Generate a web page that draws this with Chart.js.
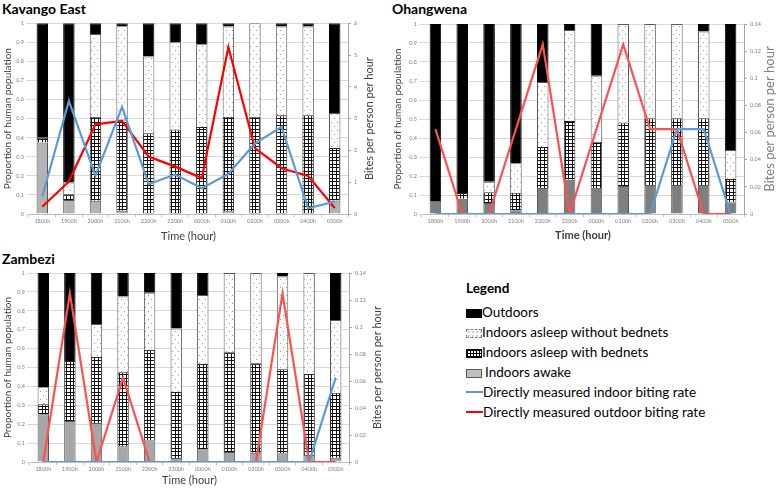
<!DOCTYPE html>
<html>
<head>
<meta charset="utf-8">
<script src="https://cdn.jsdelivr.net/npm/chart.js@4.4.1/dist/chart.umd.min.js"></script>
<style>
  body { margin: 0; width: 783px; height: 488px; background: #fff; position: relative; overflow: hidden; font-family: Lato, "Liberation Sans", sans-serif; }
  canvas { position: absolute; }
  .ttl { position: absolute; font-weight: bold; font-size: 14px; color: #000; }
  #legend { position: absolute; left: 466px; top: 280px; font-size: 13.5px; color: #000; }
  #legend .head { font-weight: bold; font-size: 13.5px; margin-bottom: 6px; }
  #legend .row { height: 20px; line-height: 20px; white-space: nowrap; }
  .sw { display: inline-block; width: 16px; height: 9px; vertical-align: -1px; box-sizing: border-box; }
  .ln { display: inline-block; width: 17px; height: 2px; vertical-align: 4px; }
</style>
</head>
<body>
<div class="ttl" style="left:2px;top:0px">Kavango East</div>
<div class="ttl" style="left:392px;top:0px">Ohangwena</div>
<div class="ttl" style="left:2px;top:250px">Zambezi</div>

<canvas id="ke" width="383" height="229" style="left:0;top:17px"></canvas>
<canvas id="oh" width="393" height="228" style="left:390px;top:17px"></canvas>
<canvas id="za" width="388" height="222" style="left:0;top:266px"></canvas>

<div id="legend">
  <div class="head">Legend</div>
  <div class="row"><span class="sw" style="background:#000"></span>Outdoors</div>
  <div class="row"><span class="sw" style="border:1px dashed #7f7f7f;background-color:#fff;background-image:radial-gradient(#999 0.6px, transparent 0.8px);background-size:4px 4px"></span>Indoors asleep without bednets</div>
  <div class="row"><span class="sw" style="border:1px solid #000;background-color:#fff;background-image:linear-gradient(#000 1px, transparent 1px),linear-gradient(90deg,#000 1px, transparent 1px);background-size:3px 3px"></span>Indoors asleep with bednets</div>
  <div class="row"><span class="sw" style="border:1px solid #595959;background:#bfbfbf;margin-right:3px"></span>Indoors awake</div>
  <div class="row"><span class="ln" style="background:#5b9bd5"></span>Directly measured indoor biting rate</div>
  <div class="row"><span class="ln" style="background:#ff0000"></span>Directly measured outdoor biting rate</div>
</div>

<script>
const hours = ['1800h','1900h','2000h','2100h','2200h','2300h','0000h','0100h','0200h','0300h','0400h','0500h'];

// Kavango East
const keAwake      = [0.375,0.073,0.07,0.017,0,0,0,0.014,0,0,0,0.071];
const keWithNets   = [0.025,0.031,0.44,0.479,0.423,0.443,0.456,0.496,0.51,0.518,0.518,0.275];
const keNoNets     = [0,0.061,0.434,0.488,0.403,0.457,0.434,0.473,0.49,0.465,0.465,0.184];
const keOutdoors   = [0.6,0.835,0.056,0.016,0.174,0.1,0.11,0.017,0,0.017,0.017,0.47];
const keIndoorBite = [0.55,3.56,1.2,3.37,0.94,1.24,0.81,1.26,2.22,2.74,0.18,0.39];
const keOutdoorBite= [0.23,1.02,2.82,2.93,1.81,1.49,1.13,5.25,2.07,1.44,1.2,0.19];

// Ohangwena
const ohAwake      = [0.065,0.08,0.058,0.02,0.137,0.18,0.133,0.147,0.153,0.153,0.153,0.061];
const ohWithNets   = [0,0.03,0.056,0.092,0.216,0.31,0.247,0.335,0.351,0.351,0.351,0.123];
const ohNoNets     = [0,0,0.056,0.155,0.342,0.478,0.348,0.518,0.496,0.496,0.457,0.153];
const ohOutdoors   = [0.935,0.89,0.83,0.733,0.305,0.032,0.272,0,0,0,0.039,0.663];
const ohIndoorBite = [0,0,0,0,0,0,0,0,0,0.0625,0.0625,0];
const ohOutdoorBite= [0.0625,0,0,0.0625,0.125,0,0.0625,0.125,0.0625,0.0625,0,0];

// Zambezi
const zaAwake      = [0.253,0.217,0.207,0.083,0.115,0.021,0.067,0.053,0.049,0.046,0.037,0.023];
const zaWithNets   = [0.053,0.317,0.348,0.392,0.479,0.35,0.451,0.528,0.474,0.445,0.429,0.343];
const zaNoNets     = [0.09,0,0.175,0.401,0.302,0.336,0.365,0.419,0.477,0.491,0.534,0.385];
const zaOutdoors   = [0.604,0.466,0.27,0.124,0.104,0.293,0.117,0,0,0.018,0,0.249];
const zaIndoorBite = [0,0,0,0,0,0,0,0,0,0,0,0.0625];
const zaOutdoorBite= [0,0.125,0,0.0625,0,0,0,0,0,0.125,0,0];

Chart.defaults.font.family = 'Lato, "Liberation Sans", sans-serif';

function dotPattern() {
  const c = document.createElement('canvas');
  c.width = 6; c.height = 8;
  const x = c.getContext('2d');
  x.fillStyle = '#fff'; x.fillRect(0, 0, 6, 8);
  x.fillStyle = '#9a9a9a';
  x.fillRect(1, 1, 1, 1);
  x.fillRect(4, 5, 1, 1);
  return x.createPattern(c, 'repeat');
}
function gridPattern() {
  // mesh with a period of 3.5px (3 then 4)
  const c = document.createElement('canvas');
  c.width = 7; c.height = 7;
  const x = c.getContext('2d');
  x.fillStyle = '#fff'; x.fillRect(0, 0, 7, 7);
  x.fillStyle = '#111';
  x.fillRect(0, 0, 7, 1);
  x.fillRect(0, 3, 7, 1);
  x.fillRect(0, 0, 1, 7);
  x.fillRect(3, 0, 1, 7);
  return x.createPattern(c, 'repeat');
}

const fmt = v => String(+(+v).toFixed(2));

// right-hand axis title, reading bottom to top like the original
const rightTitle = {
  id: 'rightTitle',
  afterDraw(chart, args, opts) {
    const { ctx, chartArea } = chart;
    ctx.save();
    ctx.translate(opts.x, (chartArea.top + chartArea.bottom) / 2);
    ctx.rotate(-Math.PI / 2);
    ctx.font = opts.size + 'px Lato, "Liberation Sans", sans-serif';
    ctx.fillStyle = opts.color;
    ctx.textAlign = 'center';
    ctx.textBaseline = 'middle';
    ctx.fillText('Bites per person per hour', 0, 0);
    ctx.restore();
  }
};

function makeChart(id, o) {
  const bar = (data, bg, border) => ({
    type: 'bar', data, backgroundColor: bg, borderColor: border, borderWidth: 1,
    barPercentage: 0.43, categoryPercentage: 1, order: 2, yAxisID: 'y'
  });
  const line = (data, color) => ({
    type: 'line', data, borderColor: color, borderWidth: 2.2, pointRadius: 0,
    tension: 0, order: 1, yAxisID: 'y2'
  });
  new Chart(document.getElementById(id), {
    data: {
      labels: hours,
      datasets: [
        bar(o.awake, o.grey, '#595959'),
        bar(o.withNets, gridPattern(), '#262626'),
        bar(o.noNets, dotPattern(), '#595959'),
        bar(o.outdoors, '#000', '#000'),
        line(o.indoor, '#5b9bd5'),
        line(o.outdoor, o.red)
      ]
    },
    plugins: [rightTitle],
    options: {
      responsive: false,
      animation: false,
      layout: { padding: { top: o.padTop, left: 0, right: 0, bottom: 0 } },
      plugins: {
        legend: { display: false }, tooltip: { enabled: false },
        rightTitle: { x: o.rTitleX, size: o.rTitleSize, color: o.rTitleColor }
      },
      scales: {
        x: {
          stacked: true,
          afterFit: s => { s.height = o.xHeight; },
          grid: { display: true, drawOnChartArea: false, drawTicks: true, tickLength: 3, color: '#bfbfbf', offset: true },
          border: { display: true, color: '#bfbfbf' },
          ticks: { font: { size: 5.5 }, color: '#7f7f7f', maxRotation: 0, padding: 1 },
          title: { display: true, text: 'Time (hour)', font: { size: 11, weight: o.xBold ? 'bold' : 'normal' }, color: '#404040', padding: { top: 2, bottom: o.xTitlePad } }
        },
        y: {
          stacked: true, position: 'left', min: 0, max: 1,
          afterFit: s => { s.width = o.leftW; },
          grid: { color: '#d9d9d9', drawTicks: true, tickLength: 3 },
          border: { display: false },
          ticks: { stepSize: 0.1, font: { size: 5.5 }, color: '#7f7f7f', padding: 2, callback: fmt },
          title: { display: true, text: 'Proportion of human population', font: { size: 10 }, color: '#404040', padding: { top: 2, bottom: 2 } }
        },
        y2: {
          position: 'right', min: 0, max: o.rMax,
          afterFit: s => { s.width = o.rightW; },
          grid: { drawOnChartArea: false, drawTicks: true, tickLength: 3, color: '#a6a6a6' },
          border: { display: true, color: '#a6a6a6' },
          ticks: { stepSize: o.rStep, font: { size: 5.5 }, color: '#7f7f7f', padding: 3, callback: fmt },
          title: { display: false }
        }
      }
    }
  });
}

makeChart('ke', {
  awake: keAwake, withNets: keWithNets, noNets: keNoNets, outdoors: keOutdoors,
  indoor: keIndoorBite, outdoor: keOutdoorBite, grey: '#b3b3b3', red: '#ff0000',
  rMax: 6, rStep: 1, padTop: 6, xHeight: 32, leftW: 29, rightW: 35,
  rTitleX: 369, rTitleSize: 11, rTitleColor: '#404040', xBold: false, xTitlePad: 3
});
makeChart('oh', {
  awake: ohAwake, withNets: ohWithNets, noNets: ohNoNets, outdoors: ohOutdoors,
  indoor: ohIndoorBite, outdoor: ohOutdoorBite, grey: '#7f7f7f', red: '#ff5050',
  rMax: 0.14, rStep: 0.02, padTop: 7, xHeight: 31, leftW: 32, rightW: 39,
  rTitleX: 380, rTitleSize: 13, rTitleColor: '#7f7f7f', xBold: true, xTitlePad: 3
});
makeChart('za', {
  awake: zaAwake, withNets: zaWithNets, noNets: zaNoNets, outdoors: zaOutdoors,
  indoor: zaIndoorBite, outdoor: zaOutdoorBite, grey: '#a6a6a6', red: '#ff5050',
  rMax: 0.14, rStep: 0.02, padTop: 7, xHeight: 26, leftW: 30, rightW: 39,
  rTitleX: 377, rTitleSize: 11, rTitleColor: '#404040', xBold: false, xTitlePad: 1
});
</script>
</body>
</html>
